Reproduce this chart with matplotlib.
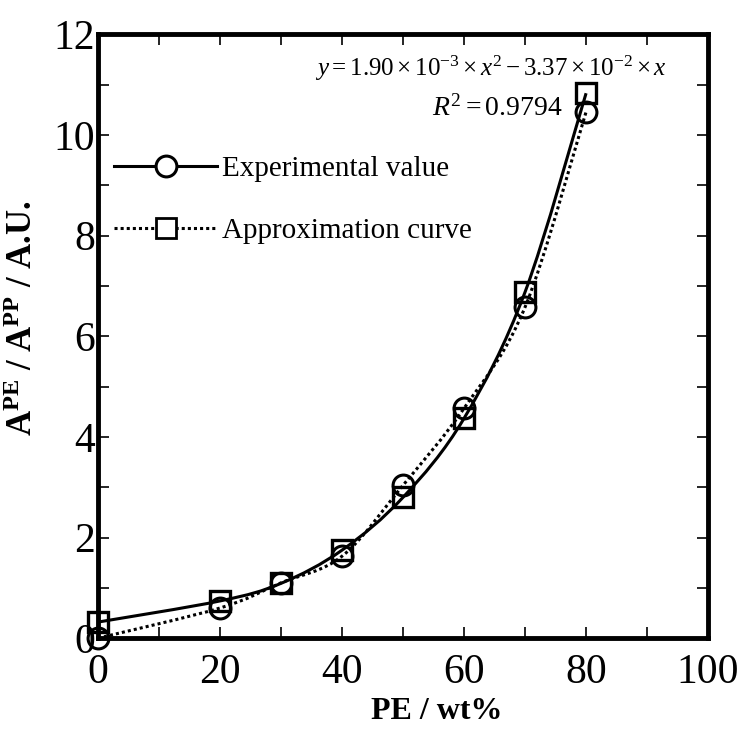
import numpy as np
import matplotlib
matplotlib.use('Agg')
import matplotlib.pyplot as plt
from matplotlib.path import Path
from matplotlib.patches import PathPatch
from matplotlib.lines import Line2D


# data
pe_wt = [0, 20, 30, 40, 50, 60, 70, 80]
experimental = [0.0, 0.60, 1.10, 1.63, 3.04, 4.57, 6.58, 10.46]
approximation = [0.32, 0.74, 1.09, 1.75, 2.80, 4.37, 6.88, 10.83]

x_ticks = [0, 20, 40, 60, 80, 100]
y_ticks = [0, 2, 4, 6, 8, 10, 12]

plt.rcParams['font.family'] = ['Liberation Serif', 'DejaVu Serif']
plt.rcParams['mathtext.fontset'] = 'custom'
plt.rcParams['mathtext.rm'] = 'Liberation Serif'
plt.rcParams['mathtext.it'] = 'Liberation Serif:italic'
plt.rcParams['mathtext.bf'] = 'Liberation Serif:bold'


# smooth curve through the points (Catmull-Rom as cubic bezier, like Excel smoothing)
def smooth_path(xs, ys):
    pts = np.column_stack([xs, ys]).astype(float)
    verts = [pts[0]]
    codes = [Path.MOVETO]
    n = len(pts)
    for i in range(n - 1):
        p0 = pts[i - 1] if i > 0 else pts[i]
        p1 = pts[i]
        p2 = pts[i + 1]
        p3 = pts[i + 2] if i + 2 < n else pts[i + 1]
        c1 = p1 + (p2 - p0) / 6.0
        c2 = p2 - (p3 - p1) / 6.0
        verts += [c1, c2, p2]
        codes += [Path.CURVE4] * 3
    return Path(verts, codes)


fig = plt.figure(figsize=(7.43, 7.31), dpi=100)
ax = fig.add_axes([0.132, 0.127, 0.821, 0.826])

lw = 2.2
dot = (0, (1, 1))

# lines as drawn in the reference: solid through squares, dotted through circles
ax.add_patch(PathPatch(smooth_path(pe_wt, approximation), fill=False,
                       lw=lw, color='black', zorder=2))
ax.add_patch(PathPatch(smooth_path(pe_wt, experimental), fill=False,
                       lw=lw, ls=dot, color='black', zorder=2))

ax.plot(pe_wt, experimental, 'o', ms=15, mfc='none', mec='black', mew=2.2,
        zorder=3, clip_on=False)
ax.plot(pe_wt, approximation, 's', ms=15, mfc='none', mec='black', mew=2.4,
        zorder=3, clip_on=False)

ax.set_xlim(0, 100)
ax.set_ylim(0, 12)
ax.set_xticks(x_ticks)
ax.set_yticks(y_ticks)
ax.set_xticks(np.arange(10, 100, 20), minor=True)
ax.set_yticks(np.arange(1, 12, 2), minor=True)
ax.tick_params(which='both', direction='in', top=True, right=True,
               length=8, width=1.2)
ax.tick_params(which='major', labelsize=30)
ax.tick_params(axis='x', which='major', pad=11)
ax.tick_params(axis='y', which='major', pad=2)
for s in ax.spines.values():
    s.set_linewidth(3.5)

ax.set_xlabel('PE / wt%', fontsize=23, fontweight='bold')
ax.xaxis.set_label_coords(0.556, -0.097)
ax.set_ylabel(r'A$^{\mathbf{PE}}$ / A$^{\mathbf{PP}}$ / A.U.', fontsize=25,
              fontweight='bold')
ax.yaxis.set_label_coords(-0.095, 0.53)

ax.text(0.933, 0.944, r'$y=1.90\times10^{-3}\times x^{2}-3.37\times10^{-2}\times x$',
        transform=ax.transAxes, ha='right', va='center', fontsize=18)
ax.text(0.761, 0.877, r'$R^{2}=0.9794$', transform=ax.transAxes,
        ha='right', va='center', fontsize=20)

handles = [
    Line2D([], [], color='black', lw=lw, marker='o', ms=15, mfc='white',
           mec='black', mew=2.2),
    Line2D([], [], color='black', lw=lw, ls=dot, marker='s', ms=15,
           mfc='white', mec='black', mew=2.0),
]
ax.legend(handles, ['Experimental value', 'Approximation curve'],
          loc='upper left', bbox_to_anchor=(-0.008, 0.833), frameon=False,
          fontsize=21, handlelength=3.56, handletextpad=0.14, labelspacing=1.22,
          borderaxespad=0.3)

plt.savefig('out.png', dpi=100)
